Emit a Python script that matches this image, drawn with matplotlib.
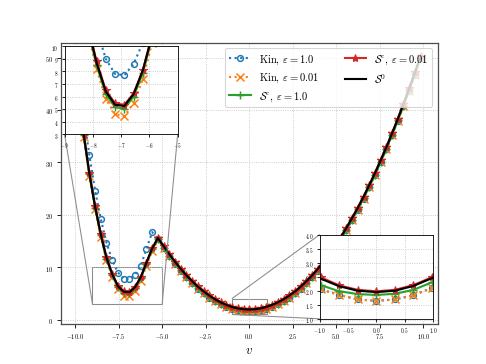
import numpy as np
import matplotlib.pyplot as plt
from mpl_toolkits.axes_grid1.inset_locator import mark_inset

plt.rcParams['font.family'] = 'serif'
plt.rcParams['font.serif'] = ['cmr10']
plt.rcParams['mathtext.fontset'] = 'cm'
plt.rcParams['axes.formatter.use_mathtext'] = True

# grid points (velocity v)
v = [-9.836, -9.508, -9.180, -8.852, -8.525, -8.197, -7.869, -7.541, -7.213, -6.885,
     -6.557, -6.230, -5.902, -5.574, -5.246, -4.918, -4.590, -4.262, -3.934, -3.607,
     -3.279, -2.951, -2.623, -2.295, -1.967, -1.639, -1.311, -0.984, -0.656, -0.328,
     0.000, 0.328, 0.656, 0.984, 1.311, 1.639, 1.967, 2.295, 2.623, 2.951,
     3.279, 3.607, 3.934, 4.262, 4.590, 4.918, 5.246, 5.574, 5.902, 6.230,
     6.557, 6.885, 7.213, 7.541, 7.869, 8.197, 8.525, 8.852, 9.180, 9.508, 9.836]

# Kin, eps = 1.0
kin_1 = [46.5, 38.8, 31.4, 24.6, 19.2, 14.7, 11.4, 9.0, 7.8, 7.7,
         8.6, 10.3, 13.5, 16.7, 15.3, 13.65, 12.1, 10.65, 9.3, 8.05,
         6.95, 5.9, 5.0, 4.2, 3.5, 2.95, 2.45, 2.05, 1.85, 1.69,
         1.64, 1.69, 1.84, 2.1, 2.45, 2.95, 3.5, 4.2, 5.0, 5.9,
         6.95, 8.05, 9.3, 10.65, 12.1, 13.65, 15.3, 17.1, 19.0, 20.95,
         23.05, 25.25, 27.55, 30.0, 32.5, 35.15, 37.9, 40.75, 43.7, 46.75, 49.9]

# Kin, eps = 0.01
kin_001 = [43.5, 34.9, 27.4, 21.1, 15.8, 11.3, 8.2, 5.8, 4.6, 4.45,
           5.5, 7.4, 10.3, 13.1, 15.2, 13.65, 12.1, 10.65, 9.3, 8.05,
           6.95, 5.9, 5.0, 4.2, 3.5, 2.95, 2.45, 2.05, 1.85, 1.69,
           1.64, 1.69, 1.84, 2.1, 2.45, 2.95, 3.5, 4.2, 5.0, 5.9,
           6.95, 8.05, 9.3, 10.65, 12.1, 13.65, 15.3, 17.1, 19.0, 20.95,
           23.05, 25.25, 27.55, 30.0, 32.5, 35.15, 37.9, 40.75, 43.7, 46.75, 49.9]

# S^eps, eps = 1.0
s_1 = [43.8, 35.2, 27.7, 21.4, 16.1, 11.6, 8.5, 6.2, 5.15, 5.05,
       6.0, 7.9, 10.7, 13.4, 15.4, 13.75, 12.2, 10.75, 9.4, 8.15,
       7.05, 6.0, 5.1, 4.3, 3.6, 3.02, 2.57, 2.2, 1.98, 1.88,
       1.85, 1.89, 2.03, 2.3, 2.65, 3.05, 3.62, 4.3, 5.1, 6.0,
       7.05, 8.15, 9.4, 10.75, 12.2, 13.75, 15.4, 17.2, 19.1, 21.05,
       23.15, 25.35, 27.65, 30.1, 32.6, 35.25, 38.0, 40.85, 43.8, 46.85, 50.0]

# S^eps, eps = 0.01
s_001 = [44.1, 35.5, 28.0, 21.7, 16.4, 11.9, 8.8, 6.5, 5.45, 5.35,
         6.25, 8.1, 10.9, 13.6, 15.5, 14.1, 12.55, 11.1, 9.75, 8.5,
         7.4, 6.35, 5.45, 4.65, 3.95, 3.35, 2.87, 2.48, 2.19, 2.03,
         1.98, 2.03, 2.2, 2.48, 2.87, 3.35, 3.95, 4.65, 5.45, 6.35,
         7.4, 8.5, 9.75, 11.1, 12.55, 14.1, 15.75, 17.55, 19.45, 21.4,
         23.5, 25.7, 28.0, 30.45, 32.95, 35.6, 38.35, 41.2, 44.15, 47.2, 50.35]

# S^0
s_0 = [44.0, 35.4, 27.9, 21.6, 16.3, 11.8, 8.7, 6.4, 5.35, 5.25,
       6.2, 8.1, 10.9, 13.6, 15.6, 14.05, 12.5, 11.05, 9.7, 8.45,
       7.35, 6.3, 5.4, 4.6, 3.9, 3.3, 2.82, 2.43, 2.16, 2.0,
       1.95, 2.0, 2.17, 2.45, 2.83, 3.3, 3.9, 4.6, 5.4, 6.3,
       7.35, 8.45, 9.7, 11.05, 12.5, 14.05, 15.7, 17.5, 19.4, 21.35,
       23.45, 25.65, 27.95, 30.4, 32.9, 35.55, 38.3, 41.15, 44.1, 47.15, 50.3]


def draw(a):
    a.plot(v, kin_1, ':', color='C0', lw=2, marker='o', mfc='none', ms=5.5, mew=1.4,
           label=r'Kin, $\varepsilon = 1.0$')
    a.plot(v, kin_001, ':', color='C1', lw=2, marker='x', ms=8, mew=1.4,
           label=r'Kin, $\varepsilon = 0.01$')
    a.plot(v, s_1, '-', color='C2', lw=2, marker='+', ms=8, mew=1.4,
           label=r'$\mathcal{S}^\varepsilon$, $\varepsilon = 1.0$')
    a.plot(v, s_001, '-', color='C3', lw=2, marker='*', ms=8,
           label=r'$\mathcal{S}^\varepsilon$, $\varepsilon = 0.01$')
    a.plot(v, s_0, '-', color='black', lw=2, label=r'$\mathcal{S}^0$')
    a.grid(True, color='0.75', linestyle=':', linewidth=0.8)


fig = plt.figure(figsize=(6.4, 4.8), dpi=76)
ax = fig.add_subplot(111)
draw(ax)
ax.set_xticks([-10, -7.5, -5, -2.5, 0, 2.5, 5, 7.5, 10])
ax.set_yticks([0, 10, 20, 30, 40, 50])
ax.tick_params(labelsize=6)
for sp in ax.spines.values():
    sp.set_color('0.3')
    sp.set_linewidth(1.2)
ax.set_xlabel(r'$v$', fontsize=12)
ax.legend(loc='upper right', ncol=2, fontsize=10, columnspacing=2.4)

# zoom on the left well
axins1 = ax.inset_axes([0.01, 0.675, 0.30, 0.313])
draw(axins1)
axins1.set_xlim(-9, -5)
axins1.set_ylim(3, 10)
axins1.set_xticks([-9, -8, -7, -6, -5])
axins1.set_yticks([3, 4, 5, 6, 7, 8, 9, 10])
axins1.tick_params(labelsize=5, length=2.5)
mark_inset(ax, axins1, loc1=3, loc2=4, fc='none', ec='0.55', lw=1)

# zoom on the right well
axins2 = ax.inset_axes([0.687, 0.018, 0.30, 0.30])
draw(axins2)
axins2.set_xlim(-1, 1)
axins2.set_ylim(1, 4)
axins2.set_xticks([-1.0, -0.5, 0.0, 0.5, 1.0])
axins2.set_yticks([1.0, 1.5, 2.0, 2.5, 3.0, 3.5, 4.0])
axins2.tick_params(labelsize=5, length=2.5)
mark_inset(ax, axins2, loc1=2, loc2=3, fc='none', ec='0.55', lw=1)

fig.savefig('out.png', dpi=76)
